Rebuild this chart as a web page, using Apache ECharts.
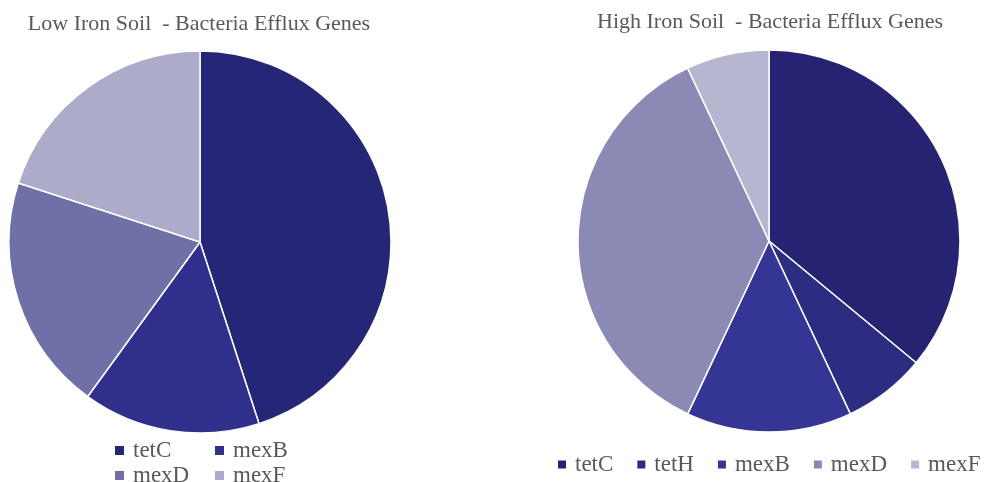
<!DOCTYPE html>
<html><head><meta charset="utf-8">
<script src="https://cdn.jsdelivr.net/npm/echarts@6/dist/echarts.min.js"></script>
<style>html,body{margin:0;padding:0;background:#fff}#c{width:987px;height:482px}</style>
</head><body><div id="c"></div>
<script>
const lowCategories = ['tetC', 'mexB', 'mexD', 'mexF'];
const lowValues = [45, 15, 20, 20];
const lowColors = ['#262676', '#30308c', '#7070a8', '#acacca'];
const highCategories = ['tetC', 'tetH', 'mexB', 'mexD', 'mexF'];
const highValues = [36, 7, 14, 36, 7];
const highColors = ['#262472', '#2c2c80', '#353595', '#8a8ab5', '#b6b6d0'];
const titles = ['Low Iron Soil  - Bacteria Efflux Genes', 'High Iron Soil  - Bacteria Efflux Genes'];

const font = '"Liberation Serif", "Times New Roman", serif';
const txt = {color: '#595959', fontFamily: font, fontSize: 23, padding: [0, 0, 0, 3]};
const lowItem = i => ({name: lowCategories[i], itemStyle: {color: lowColors[i]}});
const highItem = (n, i) => ({name: n, itemStyle: {color: highColors[i]}});

const chart = echarts.init(document.getElementById('c'));
chart.setOption({
  animation: false,
  title: [
    {text: titles[0], left: 194, top: 8, textAlign: 'center',
     textStyle: {color: '#595959', fontFamily: font, fontSize: 22, fontWeight: 'normal'}},
    {text: titles[1], left: 765, top: 6, textAlign: 'center',
     textStyle: {color: '#595959', fontFamily: font, fontSize: 22, fontWeight: 'normal'}}
  ],
  legend: [
    {data: [lowItem(0), lowItem(2)], orient: 'vertical', left: 108, top: 434, height: 100,
     itemWidth: 11, itemHeight: 11, itemGap: 2, icon: 'rect', textStyle: txt},
    {data: [lowItem(1), lowItem(3)], orient: 'vertical', left: 208, top: 434, height: 100,
     itemWidth: 11, itemHeight: 11, itemGap: 2, icon: 'rect', textStyle: txt},
    {data: highCategories.map(highItem), orient: 'horizontal', left: 551, top: 448,
     itemWidth: 10, itemHeight: 10, itemGap: 22, icon: 'rect', textStyle: txt}
  ],
  series: [
    {type: 'pie', center: [200, 242], radius: 191, startAngle: 90, clockwise: true,
     label: {show: false}, labelLine: {show: false}, silent: true,
     itemStyle: {borderColor: '#fff', borderWidth: 1.5},
     data: lowCategories.map((n, i) => ({name: n, value: lowValues[i], itemStyle: {color: lowColors[i]}}))},
    {type: 'pie', center: [769, 241], radius: 191, startAngle: 90, clockwise: true,
     label: {show: false}, labelLine: {show: false}, silent: true,
     itemStyle: {borderColor: '#fff', borderWidth: 1.5},
     data: highCategories.map((n, i) => ({name: n, value: highValues[i], itemStyle: {color: highColors[i]}}))}
  ]
});
</script></body></html>
